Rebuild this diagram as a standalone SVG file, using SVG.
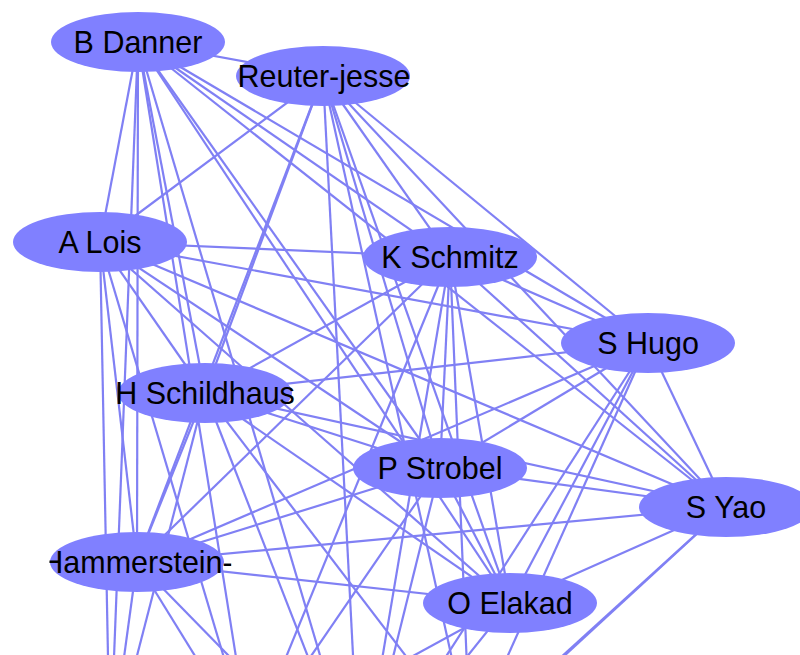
<svg xmlns="http://www.w3.org/2000/svg" width="800" height="655" viewBox="0 0 800 655">
<style>
.e line{stroke:#8080f4;stroke-width:2.2;fill:none}
.n ellipse{fill:#8080ff;stroke:none}
.n text{font-family:"Liberation Sans",Arial,Helvetica,sans-serif;font-size:30.5px;fill:#000;text-anchor:middle}
</style>
<defs>
<clipPath id="hac"><rect x="49.5" y="520" width="182" height="80"/></clipPath>
</defs>
<rect x="0" y="0" width="800" height="655" fill="#fff"/>
<g id="connectors" class="e">
<line x1="138" y1="42" x2="323" y2="76"/>
<line x1="138" y1="42" x2="100" y2="242"/>
<line x1="138" y1="42" x2="450" y2="257"/>
<line x1="138" y1="42" x2="648" y2="343"/>
<line x1="138" y1="42" x2="205" y2="393"/>
<line x1="138" y1="42" x2="440" y2="468"/>
<line x1="138" y1="42" x2="510" y2="603"/>
<line x1="138" y1="42" x2="137" y2="562"/>
<line x1="138" y1="42" x2="726" y2="507"/>
<line x1="138" y1="42" x2="110" y2="760"/>
<line x1="138" y1="42" x2="250" y2="745"/>
<line x1="138" y1="42" x2="360" y2="790"/>
<line x1="323" y1="76" x2="100" y2="242"/>
<line x1="323" y1="76" x2="450" y2="257"/>
<line x1="323" y1="76" x2="648" y2="343"/>
<line x1="323" y1="76" x2="726" y2="507"/>
<line x1="323" y1="76" x2="205" y2="393"/>
<line x1="323" y1="76" x2="137" y2="562"/>
<line x1="323" y1="76" x2="440" y2="468"/>
<line x1="323" y1="76" x2="510" y2="603"/>
<line x1="323" y1="76" x2="360" y2="790"/>
<line x1="323" y1="76" x2="470" y2="740"/>
<line x1="100" y1="242" x2="450" y2="257"/>
<line x1="100" y1="242" x2="648" y2="343"/>
<line x1="100" y1="242" x2="205" y2="393"/>
<line x1="100" y1="242" x2="440" y2="468"/>
<line x1="100" y1="242" x2="510" y2="603"/>
<line x1="100" y1="242" x2="137" y2="562"/>
<line x1="100" y1="242" x2="110" y2="760"/>
<line x1="100" y1="242" x2="250" y2="745"/>
<line x1="100" y1="242" x2="726" y2="507"/>
<line x1="450" y1="257" x2="648" y2="343"/>
<line x1="450" y1="257" x2="205" y2="393"/>
<line x1="450" y1="257" x2="440" y2="468"/>
<line x1="450" y1="257" x2="510" y2="603"/>
<line x1="450" y1="257" x2="137" y2="562"/>
<line x1="450" y1="257" x2="726" y2="507"/>
<line x1="450" y1="257" x2="250" y2="745"/>
<line x1="450" y1="257" x2="360" y2="790"/>
<line x1="450" y1="257" x2="470" y2="740"/>
<line x1="648" y1="343" x2="205" y2="393"/>
<line x1="648" y1="343" x2="440" y2="468"/>
<line x1="648" y1="343" x2="726" y2="507"/>
<line x1="648" y1="343" x2="510" y2="603"/>
<line x1="648" y1="343" x2="137" y2="562"/>
<line x1="648" y1="343" x2="360" y2="790"/>
<line x1="648" y1="343" x2="470" y2="740"/>
<line x1="205" y1="393" x2="440" y2="468"/>
<line x1="205" y1="393" x2="726" y2="507"/>
<line x1="205" y1="393" x2="510" y2="603"/>
<line x1="205" y1="393" x2="137" y2="562"/>
<line x1="205" y1="393" x2="110" y2="760"/>
<line x1="205" y1="393" x2="360" y2="790"/>
<line x1="205" y1="393" x2="470" y2="740"/>
<line x1="440" y1="468" x2="726" y2="507"/>
<line x1="440" y1="468" x2="510" y2="603"/>
<line x1="440" y1="468" x2="137" y2="562"/>
<line x1="440" y1="468" x2="250" y2="745"/>
<line x1="440" y1="468" x2="360" y2="790"/>
<line x1="726" y1="507" x2="137" y2="562"/>
<line x1="726" y1="507" x2="510" y2="603"/>
<line x1="726" y1="507" x2="470" y2="740"/>
<line x1="726" y1="507" x2="462" y2="750"/>
<line x1="137" y1="562" x2="510" y2="603"/>
<line x1="137" y1="562" x2="110" y2="760"/>
<line x1="137" y1="562" x2="250" y2="745"/>
<line x1="137" y1="562" x2="360" y2="790"/>
<line x1="510" y1="603" x2="250" y2="745"/>
<line x1="510" y1="603" x2="360" y2="790"/>
</g>
<g id="n-bdanner" class="n"><ellipse cx="138" cy="42" rx="87" ry="30"/><text x="138" y="53">B Danner</text></g>
<g id="n-reuterjesse" class="n"><ellipse cx="323" cy="76" rx="87" ry="30"/><text x="324" y="87">Reuter-jesse</text></g>
<g id="n-alois" class="n"><ellipse cx="100" cy="242" rx="87" ry="30"/><text x="100" y="253">A Lois</text></g>
<g id="n-kschmitz" class="n"><ellipse cx="450" cy="257" rx="87" ry="30"/><text x="450" y="268">K Schmitz</text></g>
<g id="n-shugo" class="n"><ellipse cx="648" cy="343" rx="87" ry="30"/><text x="648" y="354">S Hugo</text></g>
<g id="n-hschildhaus" class="n"><ellipse cx="205" cy="393" rx="87" ry="30"/><text x="205" y="404">H Schildhaus</text></g>
<g id="n-pstrobel" class="n"><ellipse cx="440" cy="468" rx="87" ry="30"/><text x="440" y="479">P Strobel</text></g>
<g id="n-syao" class="n"><ellipse cx="726" cy="507" rx="87" ry="30"/><text x="726" y="518">S Yao</text></g>
<g id="n-hammerstein" class="n"><ellipse cx="137" cy="562" rx="87" ry="30"/><text x="137" y="573" clip-path="url(#hac)">Hammerstein-</text></g>
<g id="n-oelakad" class="n"><ellipse cx="510" cy="603" rx="87" ry="30"/><text x="510" y="614">O Elakad</text></g>
</svg>
